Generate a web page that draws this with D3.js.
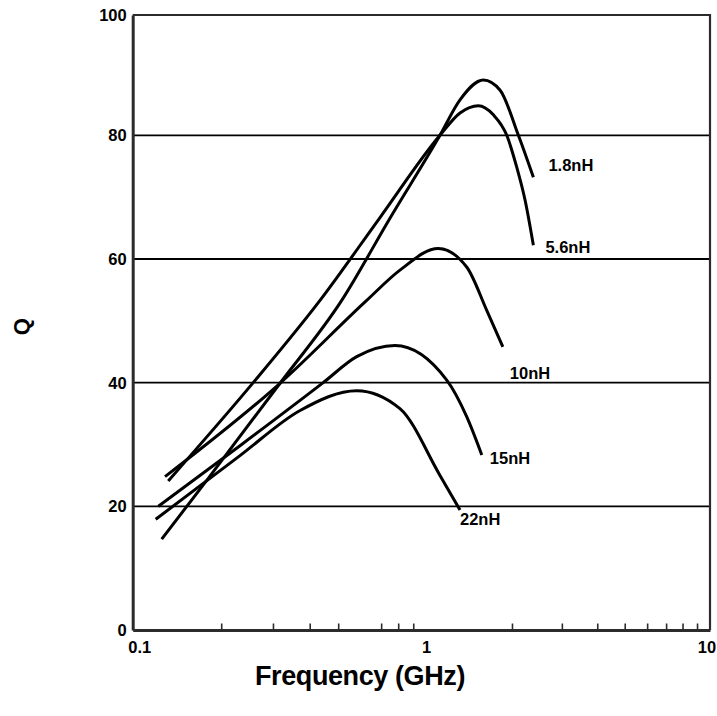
<!DOCTYPE html>
<html>
<head>
<meta charset="utf-8">
<script src="https://cdn.jsdelivr.net/npm/d3@7/dist/d3.min.js"></script>
<style>
  html, body { margin: 0; padding: 0; background: #fff; }
  svg { display: block; }
  text { font-family: "Liberation Sans", Arial, sans-serif; font-weight: bold; fill: #000; }
</style>
</head>
<body>
<svg id="chart" width="717" height="716"></svg>
<script>
// Q versus frequency for five chip inductors
const seriesNames = ["1.8nH", "5.6nH", "10nH", "15nH", "22nH"];

const freq18 = [0.1255, 0.1786, 0.317, 0.514, 0.75, 1.114, 1.311, 1.585, 1.816, 2.107, 2.38];
const q18    = [14.7,   24.2,   39.9,  53.3,  66.6, 80.0,  85.9,  89.2,  87.5,  80.0,  73.2];

const freq56 = [0.1321, 0.257, 0.4336, 0.6937, 1.114, 1.311, 1.521, 1.719, 1.917, 2.08, 2.225, 2.38];
const q56    = [24.1,   40.0,  53.3,   66.7,   80.0,  83.7,  84.9,  83.4,  80.0,  74.8, 69.5,  62.2];

const freq10 = [0.1288, 0.317, 0.625, 0.811, 1.099, 1.384, 1.629, 1.856];
const q10    = [24.8,   39.9,  53.3,  58.2,  61.7,  58.7,  51.7,  45.8];

const freq15 = [0.1222, 0.2317, 0.4446, 0.578, 0.78, 1.177, 1.384, 1.565];
const q15    = [20.0,   29.8,   40.0,   44.2,  46.0, 40.4,  34.5,  28.3];

const freq22 = [0.1197, 0.2317, 0.371, 0.578, 0.811, 1.114, 1.311];
const q22    = [17.9,   28.2,   35.5,  38.7,  35.8,  25.0,  19.4];

const freqLabelTicks = [0.1, 1, 10];
const freqLabelText  = ["0.1", "1", "10"];
const freqMinorTicks = [0.2, 0.3, 0.4, 0.5, 0.7, 0.8, 0.9, 2, 3, 4, 5, 6, 7, 8, 9];
const qTicks = [0, 20, 40, 60, 80, 100];
const qGrid  = [20, 40, 60, 80];

const series = [
  { name: seriesNames[0], f: freq18, q: q18 },
  { name: seriesNames[1], f: freq56, q: q56 },
  { name: seriesNames[2], f: freq10, q: q10 },
  { name: seriesNames[3], f: freq15, q: q15 },
  { name: seriesNames[4], f: freq22, q: q22 }
];

// label placement next to the end of each curve
const labelOffsets = [[15, -6], [12, 8], [7, 32], [8, 9], [0, 15]];

const svg = d3.select("#chart");

const plot = { left: 132.7, right: 710, top: 15, bottom: 630 };

const x = d3.scaleLog()
  .domain([0.1, 1, 10])
  .range([plot.left, 426.7, plot.right]);

const y = d3.scaleLinear()
  .domain([0, 80, 100])
  .range([plot.bottom, 135.3, plot.top]);

// horizontal grid lines
svg.append("g").selectAll("line")
  .data(qGrid)
  .join("line")
  .attr("x1", plot.left).attr("x2", plot.right)
  .attr("y1", d => y(d)).attr("y2", d => y(d))
  .attr("stroke", "#000").attr("stroke-width", 1.8);

// frame: top and right edges
svg.append("path")
  .attr("d", `M${plot.left},${y(100)}H${plot.right}V${plot.bottom}`)
  .attr("fill", "none").attr("stroke", "#2b2b2b").attr("stroke-width", 2.2);

// bottom axis with minor ticks pointing inward
const xAxis = d3.axisBottom(x)
  .tickValues(freqMinorTicks)
  .tickSizeInner(-6.5)
  .tickSizeOuter(0)
  .tickFormat("");
const gx = svg.append("g")
  .attr("transform", `translate(0,${plot.bottom})`)
  .call(xAxis);
gx.select(".domain").attr("stroke", "#2b2b2b").attr("stroke-width", 3);
gx.selectAll(".tick line").attr("stroke", "#2b2b2b").attr("stroke-width", 1.6);

// left axis line
const yAxis = d3.axisLeft(y).tickValues([]).tickSizeOuter(0);
const gy = svg.append("g")
  .attr("transform", `translate(${plot.left},0)`)
  .call(yAxis);
gy.select(".domain").attr("stroke", "#2b2b2b").attr("stroke-width", 3);

// y tick labels
svg.append("g").selectAll("text")
  .data(qTicks)
  .join("text")
  .attr("x", plot.left - 6)
  .attr("y", d => y(d))
  .attr("dy", "0.36em")
  .attr("text-anchor", "end")
  .attr("font-size", 16.5)
  .text(d => d);

// x tick labels
const xLabelShift = [7, 0, -3];
svg.append("g").selectAll("text")
  .data(freqLabelTicks)
  .join("text")
  .attr("x", (d, i) => x(d) + xLabelShift[i])
  .attr("y", 652.5)
  .attr("text-anchor", "middle")
  .attr("font-size", 16.5)
  .text((d, i) => freqLabelText[i]);

// axis titles
svg.append("text")
  .attr("x", 360).attr("y", 685)
  .attr("text-anchor", "middle")
  .attr("font-size", 27)
  .attr("letter-spacing", "-0.4")
  .text("Frequency (GHz)");

svg.append("text")
  .attr("transform", "translate(29,326.7) rotate(-90)")
  .attr("text-anchor", "middle")
  .attr("font-size", 22)
  .text("Q");

// curves
const line = d3.line()
  .x(d => x(d[0]))
  .y(d => y(d[1]))
  .curve(d3.curveMonotoneX);

svg.append("g").selectAll("path")
  .data(series)
  .join("path")
  .attr("d", s => line(s.f.map((f, i) => [f, s.q[i]])))
  .attr("fill", "none")
  .attr("stroke", "#000")
  .attr("stroke-width", 3)
  .attr("stroke-linecap", "butt");

// curve labels
svg.append("g").selectAll("text")
  .data(series)
  .join("text")
  .attr("x", (s, i) => x(s.f[s.f.length - 1]) + labelOffsets[i][0])
  .attr("y", (s, i) => y(s.q[s.q.length - 1]) + labelOffsets[i][1])
  .attr("font-size", 16.5)
  .text(s => s.name);
</script>
</body>
</html>
